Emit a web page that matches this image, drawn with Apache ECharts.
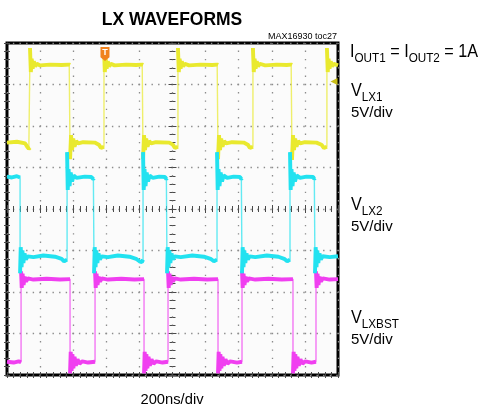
<!DOCTYPE html>
<html>
<head>
<meta charset="utf-8">
<script src="https://cdn.jsdelivr.net/npm/echarts@6/dist/echarts.min.js"></script>
<style>
html,body{margin:0;padding:0;background:#fff;}
#chart{width:482px;height:410px;}
</style>
</head>
<body>
<div id="chart"></div>
<script>
// ---- Data (time in ns, value in screen divisions, 0 = bottom graticule line) ----
const timeMin = 0, timeMax = 2000, timeDiv = 200;   // 200ns/div
const divMin = 0, divMax = 8, divStep = 1;          // 8 vertical divisions

// V_LX1 (yellow)
const vlx1 = [
 [0,5.60],[60,5.62],[110,5.58],[122,5.50],[132,5.45],[139,5.48],
 [139,7.88],[144,7.30],[149,7.62],[155,7.38],[162,7.56],[170,7.43],[180,7.50],[200,7.46],[260,7.48],[330,7.47],[376,7.48],
 [381,7.47],[381,5.20],[387,5.78],[393,5.42],[400,5.70],[408,5.50],[418,5.64],[430,5.58],[460,5.61],[530,5.60],[555,5.55],[568,5.47],[580,5.44],[586,5.50],
 [586,7.88],[591,7.30],[596,7.62],[602,7.38],[609,7.56],[617,7.43],[627,7.50],[650,7.46],[720,7.48],[780,7.47],[817,7.48],
 [822,7.47],[822,5.20],[828,5.78],[834,5.42],[841,5.70],[849,5.50],[859,5.64],[871,5.58],[900,5.61],[980,5.60],[1002,5.55],[1015,5.47],[1027,5.45],[1033,5.50],
 [1033,7.88],[1038,7.30],[1043,7.62],[1049,7.38],[1056,7.56],[1064,7.43],[1074,7.50],[1100,7.46],[1170,7.48],[1240,7.47],[1270,7.48],
 [1275,7.47],[1275,5.20],[1281,5.78],[1287,5.42],[1294,5.70],[1302,5.50],[1312,5.64],[1324,5.58],[1360,5.61],[1430,5.60],[1455,5.55],[1468,5.47],[1480,5.45],[1486,5.50],
 [1486,7.88],[1491,7.30],[1496,7.62],[1502,7.38],[1509,7.56],[1517,7.43],[1527,7.50],[1560,7.46],[1630,7.48],[1690,7.47],[1717,7.48],
 [1722,7.47],[1722,5.18],[1728,5.78],[1734,5.42],[1741,5.70],[1749,5.50],[1759,5.64],[1771,5.58],[1800,5.61],[1870,5.60],[1900,5.55],[1915,5.47],[1927,5.45],[1933,5.50],
 [1933,7.88],[1938,7.30],[1943,7.62],[1949,7.38],[1956,7.56],[1964,7.43],[1974,7.50],[2000,7.46]
];

// V_LX2 (cyan)
const vlx2 = [
 [0,4.78],[30,4.76],[60,4.79],[79,4.76],
 [79,2.45],[83,3.08],[88,2.60],[93,3.00],[99,2.70],[106,2.93],[114,2.78],[125,2.86],[160,2.84],[220,2.88],[290,2.85],[330,2.80],[345,2.74],[357,2.72],[363,2.78],
 [363,5.37],[367,4.46],[372,4.96],[378,4.55],[385,4.88],[393,4.66],[403,4.81],[420,4.75],[470,4.78],[510,4.77],[522,4.72],[526,4.74],
 [526,2.45],[530,3.08],[535,2.60],[540,3.00],[546,2.70],[553,2.93],[561,2.78],[572,2.86],[610,2.84],[670,2.88],[740,2.85],[780,2.80],[800,2.74],[815,2.72],[822,2.78],
 [822,5.37],[826,4.46],[831,4.96],[837,4.55],[844,4.88],[852,4.66],[862,4.81],[880,4.75],[920,4.78],[955,4.77],[963,4.72],[967,4.74],
 [967,2.45],[971,3.08],[976,2.60],[981,3.00],[987,2.70],[994,2.93],[1002,2.78],[1013,2.86],[1050,2.84],[1120,2.88],[1190,2.85],[1230,2.80],[1250,2.74],[1262,2.72],[1269,2.78],
 [1269,5.37],[1273,4.46],[1278,4.96],[1284,4.55],[1291,4.88],[1299,4.66],[1309,4.81],[1330,4.75],[1370,4.78],[1408,4.77],[1416,4.72],[1420,4.74],
 [1420,2.45],[1424,3.08],[1429,2.60],[1434,3.00],[1440,2.70],[1447,2.93],[1455,2.78],[1466,2.86],[1500,2.84],[1570,2.88],[1640,2.85],[1675,2.80],[1693,2.74],[1704,2.72],[1710,2.78],
 [1710,5.37],[1714,4.46],[1719,4.96],[1725,4.55],[1732,4.88],[1740,4.66],[1750,4.81],[1770,4.75],[1810,4.78],[1850,4.77],[1857,4.72],[1861,4.74],
 [1861,2.45],[1865,3.08],[1870,2.60],[1875,3.00],[1881,2.70],[1888,2.93],[1896,2.78],[1907,2.86],[1950,2.84],[2000,2.86]
];

// V_LXBST (magenta)
const vlxbst = [
 [0,0.32],[40,0.30],[70,0.33],[85,0.31],
 [85,2.50],[89,2.10],[94,2.44],[100,2.17],[107,2.37],[115,2.25],[126,2.33],[160,2.30],[240,2.32],[320,2.30],[381,2.31],
 [381,0.04],[385,0.56],[390,0.10],[395,0.50],[401,0.16],[408,0.44],[416,0.22],[426,0.38],[438,0.27],[455,0.33],[490,0.30],[532,0.32],
 [532,2.50],[536,2.10],[541,2.44],[547,2.17],[554,2.37],[562,2.25],[573,2.33],[610,2.30],[690,2.32],[770,2.30],[828,2.31],
 [828,0.04],[832,0.56],[837,0.10],[842,0.50],[848,0.16],[855,0.44],[863,0.22],[873,0.38],[885,0.27],[902,0.33],[940,0.30],[973,0.32],
 [973,2.50],[977,2.10],[982,2.44],[988,2.17],[995,2.37],[1003,2.25],[1014,2.33],[1050,2.30],[1130,2.32],[1210,2.30],[1275,2.31],
 [1275,0.04],[1279,0.56],[1284,0.10],[1289,0.50],[1295,0.16],[1302,0.44],[1310,0.22],[1320,0.38],[1332,0.27],[1349,0.33],[1390,0.30],[1420,0.32],
 [1420,2.50],[1424,2.10],[1429,2.44],[1435,2.17],[1442,2.37],[1450,2.25],[1461,2.33],[1500,2.30],[1580,2.32],[1660,2.30],[1728,2.31],
 [1728,0.04],[1732,0.56],[1737,0.10],[1742,0.50],[1748,0.16],[1755,0.44],[1763,0.22],[1773,0.38],[1785,0.27],[1802,0.33],[1840,0.30],[1867,0.32],
 [1867,2.50],[1871,2.10],[1876,2.44],[1882,2.17],[1889,2.37],[1897,2.25],[1908,2.33],[1950,2.30],[2000,2.31]
];

const triggerTime = 592;      // "T" trigger marker position (ns)
const ch1LevelMarker = 7.07;  // channel-1 level arrow on right edge (div)

// Texts
const titleText = 'LX WAVEFORMS';
const tocText = 'MAX16930 toc27';
const xScaleText = '200ns/div';
const condMain = ['I', ' = I', ' = 1A'];
const condSub = ['OUT1', 'OUT2'];
const channelMain = ['V', 'V', 'V'];
const channelSub = ['LX1', 'LX2', 'LXBST'];
const channelScale = ['5V/div', '5V/div', '5V/div'];

// ---- Rendering ----
const FF = '"Liberation Sans", Arial, Helvetica, sans-serif';
const YELLOW = '#e9e92e', CYAN = '#22e2f0', MAGENTA = '#f03ff0';

const mctx = document.createElement('canvas').getContext('2d');
function tw(text, size, weight) {
  mctx.font = (weight || 'normal') + ' ' + size + 'px ' + FF;
  return mctx.measureText(text).width;
}
const graphics = [];
function txt(x, baseline, text, size, opts) {
  opts = opts || {};
  graphics.push({
    type: 'text', x: x, y: baseline - 0.847 * size, scaleX: opts.scale || 1,
    style: { text: text, fontSize: size, fontFamily: FF, fontWeight: opts.weight || 'normal',
             fill: '#000', align: opts.align || 'left', verticalAlign: 'top' },
    z: 100
  });
}
function runLine(x, pieces, scale) {
  let cx = x;
  pieces.forEach(p => {
    txt(cx, p.base, p.t, p.size, { scale: scale });
    cx += tw(p.t, p.size) * scale;
  });
}
// Title & small tags
txt(172, 26, titleText, 19, { weight: 'bold', align: 'center', scale: 0.92 });
txt(337, 40, tocText, 9, { align: 'right' });
txt(172, 405, xScaleText, 15.5, { align: 'center', scale: 0.95 });
// Conditions line
runLine(350, [
  { t: condMain[0], size: 18, base: 58 }, { t: condSub[0], size: 13, base: 63 },
  { t: condMain[1], size: 18, base: 58 }, { t: condSub[1], size: 13, base: 63 },
  { t: condMain[2], size: 18, base: 58 }
], 0.9);
// Channel labels
const chTop = [83, 197, 310];
chTop.forEach((Y, i) => {
  runLine(351, [
    { t: channelMain[i], size: 18, base: Y + 14 },
    { t: channelSub[i], size: 13, base: Y + 19 }
  ], 0.9);
  txt(351, Y + 35, channelScale[i], 15);
});

function thick(d) {
  const out = [];
  for (let i = 0; i < d.length; i++) {
    out.push(d[i]);
    if (i + 1 < d.length && d[i + 1][0] === d[i][0]) out.push([d[i][0], null]);
  }
  return out;
}

const GX = 7, GY = 43, GW = 331, GH = 332;
const tickStyle = { color: '#4a4a4a', width: 1 };
function axisBase(extra) {
  return Object.assign({
    type: 'value', axisLabel: { show: false }, splitLine: { show: false },
    axisLine: { show: false },
    axisTick: { show: true, inside: true, length: 3, lineStyle: tickStyle },
    minorTick: { show: true, splitNumber: 5, length: 3, lineStyle: tickStyle }
  }, extra);
}
const xr = { min: timeMin, max: timeMax, interval: timeDiv };
const yr = { min: divMin, max: divMax, interval: divStep };

const xAxes = [
  axisBase(Object.assign({ position: 'bottom',
    splitLine: { show: true, lineStyle: { color: '#8c8c8c', width: 1.3, type: [1.4, 6.9], dashOffset: 0.7 } } }, xr)),
  axisBase(Object.assign({ position: 'top' }, xr)),
  axisBase(Object.assign({ position: 'bottom', offset: -GH / 2, axisTick: { show: true, inside: true, length: 4, lineStyle: tickStyle } }, xr)),
  axisBase(Object.assign({ position: 'bottom', offset: -GH / 2, axisTick: { show: true, inside: false, length: 4, lineStyle: tickStyle } }, xr))
];
const yAxes = [
  axisBase(Object.assign({ position: 'left',
    splitLine: { show: true, lineStyle: { color: '#8c8c8c', width: 1.3, type: [1.4, 5.2], dashOffset: 0.7 } } }, yr)),
  axisBase(Object.assign({ position: 'right' }, yr)),
  axisBase(Object.assign({ position: 'left', offset: -GW / 2, axisTick: { show: true, inside: true, length: 4, lineStyle: tickStyle } }, yr)),
  axisBase(Object.assign({ position: 'left', offset: -GW / 2, axisTick: { show: true, inside: false, length: 4, lineStyle: tickStyle } }, yr))
];

function chSeries(name, data, color, extra) {
  return [
    Object.assign({ name: name + '-edges', type: 'line', data: data, symbol: 'none', silent: true,
      lineStyle: { color: color, width: 1.4, opacity: 0.7 } }, extra || {}),
    { name: name, type: 'line', data: thick(data), symbol: 'none', silent: true, connectNulls: false,
      lineStyle: { color: color, width: 3.9 } }
  ];
}

const series = [].concat(
  chSeries('VLXBST', vlxbst, MAGENTA),
  chSeries('VLX1', vlx1, YELLOW, {
    markPoint: {
      silent: true, animation: false,
      data: [
        { coord: [triggerTime, divMax], symbol: 'path://M0,0 L10,0 L10,11 L5,15 L0,11 Z',
          symbolSize: [9, 14], symbolOffset: [0, 11], itemStyle: { color: '#f0821e' },
          label: { show: true, formatter: 'T', color: '#fff', fontSize: 9, fontWeight: 'bold', offset: [0, -1] } },
        { coord: [timeMax, ch1LevelMarker], symbol: 'triangle', symbolRotate: 90, symbolSize: [7, 7],
          symbolOffset: [-4, 0], itemStyle: { color: '#c9bd18' }, label: { show: false } }
      ]
    }
  }),
  chSeries('VLX2', vlx2, CYAN)
);

const chart = echarts.init(document.getElementById('chart'), null, { renderer: 'canvas' });
chart.setOption({
  animation: false,
  backgroundColor: '#ffffff',
  grid: { left: GX, top: GY, width: GW, height: GH, show: true, backgroundColor: '#fbfbfb',
          borderColor: '#000', borderWidth: 3, outerBoundsMode: 'none', containLabel: false },
  xAxis: xAxes,
  yAxis: yAxes,
  series: series,
  graphic: graphics
});
</script>
</body>
</html>
